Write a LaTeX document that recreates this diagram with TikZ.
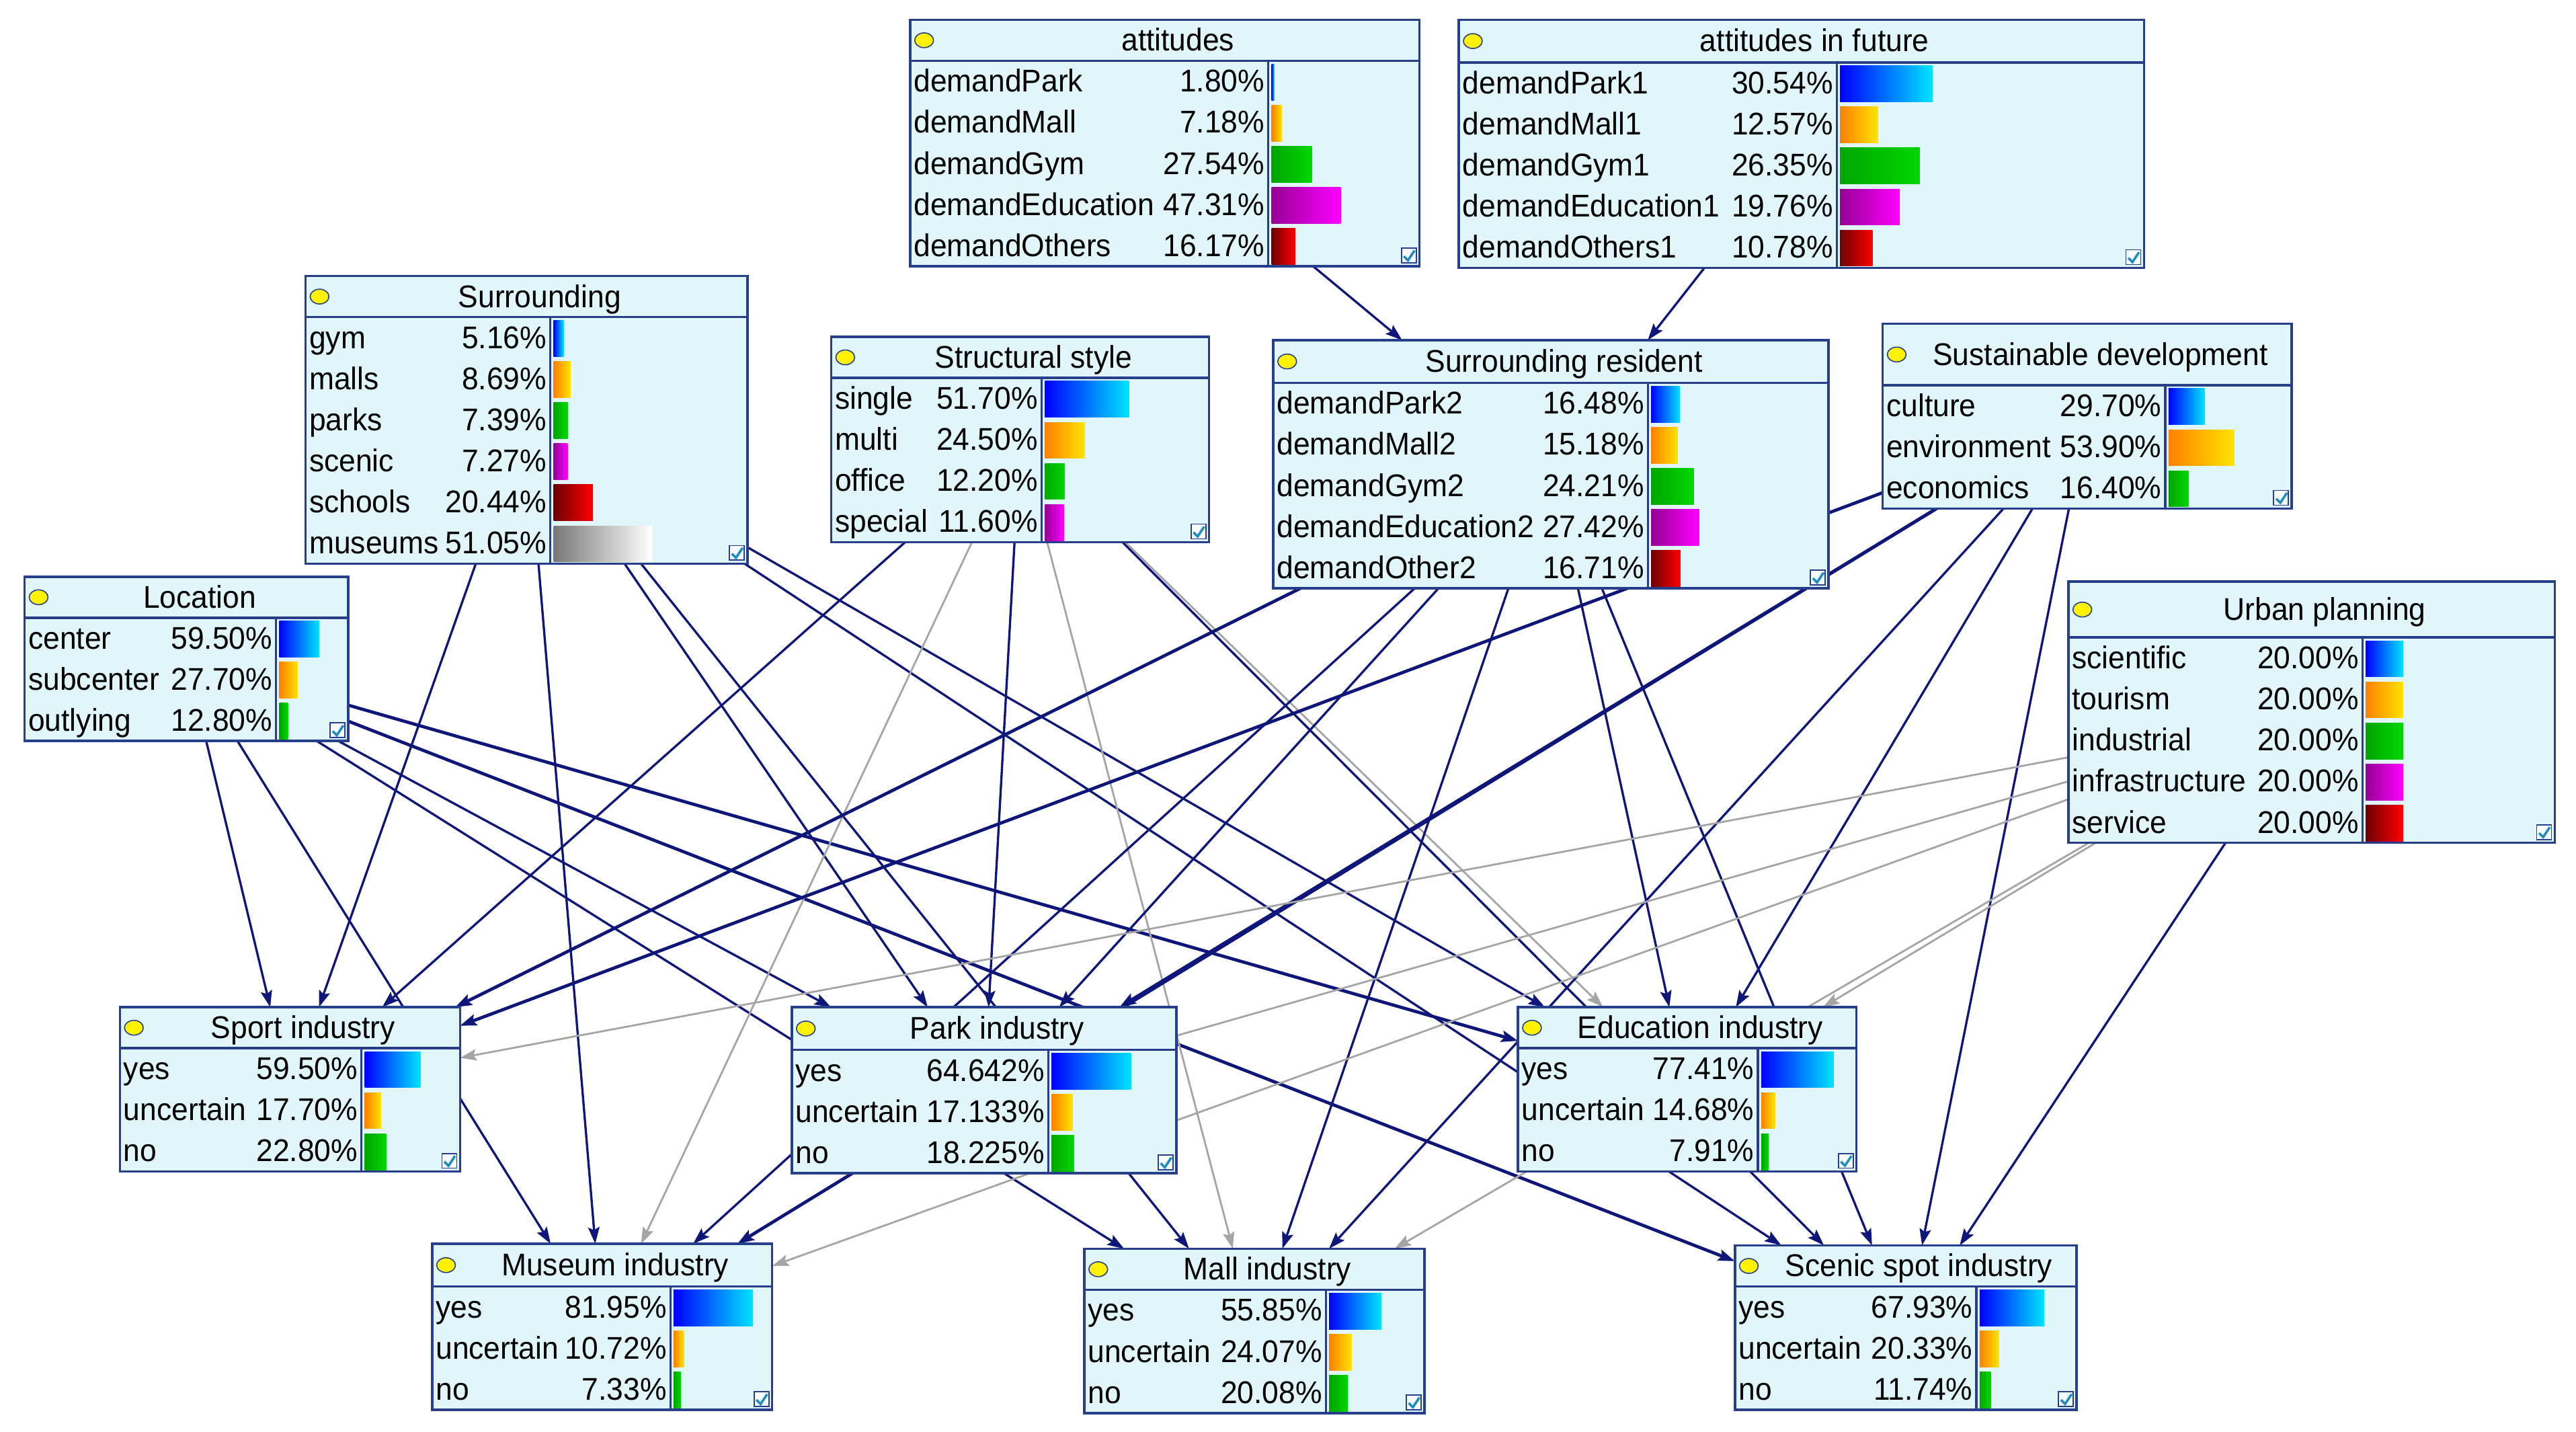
\documentclass[tikz,border=0pt]{standalone}
\usepackage{fontspec}
\setmainfont[FakeStretch=0.95]{Liberation Sans}
\usetikzlibrary{fit,arrows.meta}
\pgfdeclarelayer{paper}
\pgfdeclarelayer{edges}
\pgfsetlayers{paper,edges,main}
\definecolor{boxfill}{RGB}{224,246,251}
\definecolor{boxline}{RGB}{38,62,140}
\definecolor{arcnavy}{RGB}{14,22,122}
\definecolor{arcgrey}{RGB}{165,165,165}
\definecolor{checkc}{RGB}{30,140,190}
\definecolor{barL1}{RGB}{0,0,255}\definecolor{barR1}{RGB}{0,228,255}
\definecolor{barL2}{RGB}{255,128,0}\definecolor{barR2}{RGB}{255,228,0}
\definecolor{barL3}{RGB}{0,165,0}\definecolor{barR3}{RGB}{0,215,0}
\definecolor{barL4}{RGB}{150,0,150}\definecolor{barR4}{RGB}{255,0,255}
\definecolor{barL5}{RGB}{110,0,0}\definecolor{barR5}{RGB}{255,0,0}
\definecolor{barL6}{RGB}{120,120,120}\definecolor{barR6}{RGB}{255,255,255}
\tikzset{
  bnframe/.style={rectangle, draw=boxline, fill=boxfill, line width=1pt, inner sep=0pt, outer sep=0pt},
  arcn/.style={draw=arcnavy, line width=0.95pt, -{Stealth[length=7pt,width=4.8pt,inset=1.2pt]}},
  arcg/.style={draw=arcgrey, line width=0.8pt, -{Stealth[length=7pt,width=4.8pt,inset=1.2pt]}},
  arcb/.style={line width=1.35pt},
  txt/.style={inner sep=0pt, font=\fontsize{13.3pt}{15pt}\selectfont}
}
% #1 name #2 left #3 top #4 right #5 title bottom #6 bottom #7 divider #8 title #9 rows
\newcommand\bnnode[9]{%
  \coordinate (#1-nw) at (#2,#3);
  \coordinate (#1-se) at (#4,#6);
  \node[bnframe, fit=(#1-nw)(#1-se)] (#1) {};
  \draw[boxline, line width=1pt] (#2,#5) -- (#4,#5);
  \draw[boxline, line width=0.9pt] (#7,#5) -- (#7,#6);
  \draw[fill=yellow, draw=boxline, line width=0.45pt] ({#2+8.5},{(#3+#5)/2}) ellipse [x radius=0.14cm, y radius=0.11cm];
  \node[txt, anchor=base] at ({(#2+#4)/2+8},{(#3+#5)/2+6.5}) {#8};
  \foreach \lab/\val [count=\i] in {#9} {
    \node[txt, anchor=base west] at ({#2+2},{#5+(\i-1)*25+19}) {\lab};
    \node[txt, anchor=base east] at ({#7-2},{#5+(\i-1)*25+19}) {\val\%};
    \shade[left color=barL\i, right color=barR\i] ({#7+2},{#5+(\i-1)*25+2}) rectangle ({#7+2+\val*(#4-#7-3)/100},{#5+\i*25-1});
  }
  \draw[boxline, fill=white!70!boxfill, line width=0.5pt] ({#4-11},{#6-11}) rectangle ({#4-2},{#6-2});
  \draw[checkc, line width=1pt] ({#4-9.5},{#6-6}) -- ({#4-7},{#6-3.5}) -- ({#4-3},{#6-9.5});
}
\begin{document}
\begin{tikzpicture}[x=0.0244388cm, y=-0.0244388cm]
\begin{pgfonlayer}{paper}
  \fill[white] (0,0) rectangle (1568,871.16);
\end{pgfonlayer}
\useasboundingbox (0,0) rectangle (1568,871.16);

\bnnode{att}{554}{12}{864}{37}{162}{772}{attitudes}{demandPark/1.80, demandMall/7.18, demandGym/27.54, demandEducation/47.31, demandOthers/16.17}
\bnnode{fut}{888}{12}{1305}{38}{163}{1118}{attitudes in future}{demandPark1/30.54, demandMall1/12.57, demandGym1/26.35, demandEducation1/19.76, demandOthers1/10.78}
\bnnode{surr}{186}{168}{455}{193}{343}{335}{Surrounding}{gym/5.16, malls/8.69, parks/7.39, scenic/7.27, schools/20.44, museums/51.05}
\bnnode{struct}{506}{205}{736}{230}{330}{634}{Structural style}{single/51.70, multi/24.50, office/12.20, special/11.60}
\bnnode{res}{775}{207}{1113}{233}{358}{1003}{Surrounding resident}{demandPark2/16.48, demandMall2/15.18, demandGym2/24.21, demandEducation2/27.42, demandOther2/16.71}
\bnnode{sus}{1146}{197}{1395}{234.5}{309.5}{1318}{Sustainable development}{culture/29.70, environment/53.90, economics/16.40}
\bnnode{loc}{15}{351}{212}{376}{451}{168}{Location}{center/59.50, subcenter/27.70, outlying/12.80}
\bnnode{urb}{1259}{354}{1555}{388}{513}{1438}{Urban planning}{scientific/20.00, tourism/20.00, industrial/20.00, infrastructure/20.00, service/20.00}
\bnnode{sport}{73}{613}{280}{638}{713}{220}{Sport industry}{yes/59.50, uncertain/17.70, no/22.80}
\bnnode{park}{482}{613}{716}{639}{714}{638}{Park industry}{yes/64.642, uncertain/17.133, no/18.225}
\bnnode{edu}{924}{613}{1130}{638}{713}{1070}{Education industry}{yes/77.41, uncertain/14.68, no/7.91}
\bnnode{mus}{263}{757}{470}{783}{858}{408}{Museum industry}{yes/81.95, uncertain/10.72, no/7.33}
\bnnode{mall}{660}{760}{867}{785}{860}{807}{Mall industry}{yes/55.85, uncertain/24.07, no/20.08}
\bnnode{scen}{1056}{758}{1264}{783}{858}{1203}{Scenic spot industry}{yes/67.93, uncertain/20.33, no/11.74}

\begin{pgfonlayer}{edges}
  \draw[arcn] (att) -- (res);
  \draw[arcn] (fut) -- (res);
  % Location
  \draw[arcn] (loc) -- (sport);
  \draw[arcn] (loc) -- (mus);
  \draw[arcn] (loc) -- (mall);
  \draw[arcn] (loc) -- (park);
  \draw[arcn, arcb] (loc) -- (edu);
  \draw[arcn, arcb] (loc) -- (scen);
  % Surrounding
  \draw[arcn] (surr) -- (sport);
  \draw[arcn] (surr) -- (mus);
  \draw[arcn] (surr) -- (park);
  \draw[arcn] (surr) -- (mall);
  \draw[arcn] (surr) -- (edu);
  \draw[arcn] (surr) -- (scen);
  % Structural style
  \draw[arcn] (struct) -- (sport);
  \draw[arcn] (struct) -- (park);
  \draw[arcn] (struct) -- (scen);
  \draw[arcg] (struct) -- (mus);
  \draw[arcg] (struct) -- (mall);
  \draw[arcg] (struct) -- (edu);
  % Surrounding resident
  \draw[arcn, arcb] (res) -- (sport);
  \draw[arcn] (res) -- (mus);
  \draw[arcn] (res) -- (park);
  \draw[arcn] (res) -- (edu);
  \draw[arcn] (res) -- (mall);
  \draw[arcn] (res) -- (scen);
  % Sustainable development
  \draw[arcn, arcb] (sus) -- (sport);
  \draw[arcn, arcb] (sus) -- (park);
  \draw[arcn, arcb] (sus) -- (mus);
  \draw[arcn] (sus) -- (edu);
  \draw[arcn] (sus) -- (mall);
  \draw[arcn] (sus) -- (scen);
  % Urban planning
  \draw[arcg] (urb) -- (sport);
  \draw[arcg, -] (urb) -- (park);
  \draw[arcg] (urb) -- (mus);
  \draw[arcg] (urb) -- (edu);
  \draw[arcg] (urb) -- (mall);
  \draw[arcn] (urb) -- (scen);
\end{pgfonlayer}
\end{tikzpicture}
\end{document}
